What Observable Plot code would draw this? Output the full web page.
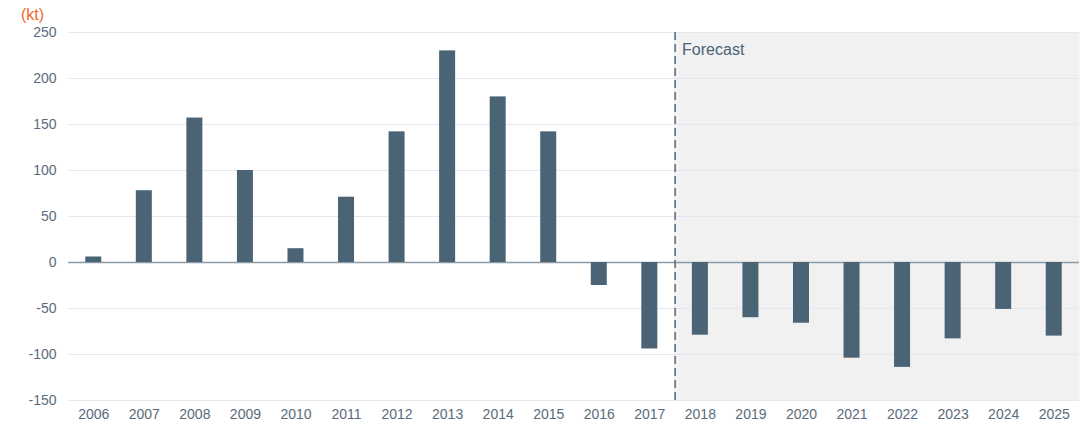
<!DOCTYPE html>
<html>
<head>
<meta charset="utf-8">
<script src="https://cdn.jsdelivr.net/npm/d3@7"></script>
<script src="https://cdn.jsdelivr.net/npm/@observablehq/plot@0.6"></script>
<style>
  html, body { margin: 0; padding: 0; background: #fff; }
  #chart svg { display: block; }
</style>
</head>
<body>
<div id="chart"></div>
<script>
const years = ["2006","2007","2008","2009","2010","2011","2012","2013","2014","2015","2016","2017","2018","2019","2020","2021","2022","2023","2024","2025"];
const values = [6, 78, 157, 100, 15, 71, 142, 230, 180, 142, -25, -94, -79, -60, -66, -104, -114, -83, -51, -80];
const forecastYears = ["2018","2019","2020","2021","2022","2023","2024","2025"];
const yTicks = [-150, -100, -50, 0, 50, 100, 150, 200, 250];
const unitLabel = "(kt)";
const forecastLabel = "Forecast";

const data = years.map((y, i) => ({year: y, value: values[i]}));
const shade = forecastYears.map(y => ({year: y}));

const W = 1089, H = 434, ML = 68, MR = 10, MT = 32, MB = 34;
const halfStep = (W - ML - MR) / years.length / 2;
const barInset = halfStep - 8;

const chart = Plot.plot({
  width: W, height: H,
  marginLeft: ML, marginRight: MR, marginTop: MT, marginBottom: MB,
  style: {fontFamily: "Liberation Sans, Arial, sans-serif", fontSize: "14px", color: "#5b6b7a", background: "#fff"},
  x: {domain: years, padding: 0, round: false, label: null, tickSize: 0, tickPadding: 9},
  y: {domain: [-150, 250], ticks: yTicks, label: null, tickSize: 0, tickPadding: 12, tickFormat: d => `${d}`},
  marks: [
    Plot.barY(shade, {x: "year", y1: -150, y2: 250, fill: "#f1f1f1", insetLeft: -0.6, insetRight: -0.6}),
    Plot.gridY(yTicks, {stroke: "#e2e8ee", strokeOpacity: 1, strokeWidth: 1}),
    Plot.ruleY([0], {stroke: "#8a9ba7", strokeWidth: 1.5}),
    Plot.barY(data, {x: "year", y: "value", fill: "#4a6375", insetLeft: barInset, insetRight: barInset}),
    Plot.ruleX([forecastYears[0]], {x: d => d, y1: -150, y2: 250, dx: -halfStep, stroke: "#4f6878", strokeWidth: 1.5, strokeDasharray: "8,4"}),
    Plot.text([forecastLabel], {x: () => forecastYears[0], y: 250, text: d => d, dx: -halfStep + 7, dy: 17, textAnchor: "start", fill: "#4d6373", fontSize: 16}),
    Plot.text([unitLabel], {frameAnchor: "top-left", text: d => d, dx: -36, dy: -24, textAnchor: "middle", fill: "#f0692a", fontSize: 16})
  ]
});
document.getElementById("chart").appendChild(chart);
</script>
</body>
</html>
